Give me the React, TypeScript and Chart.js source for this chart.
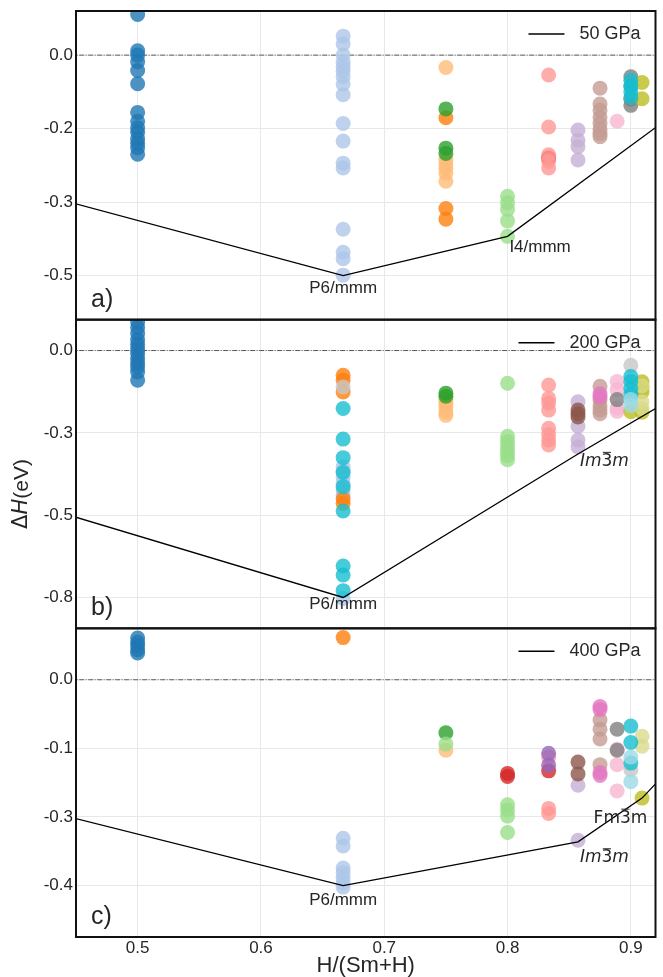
import React, { useEffect, useRef } from 'react';
import { Chart, registerables } from 'chart.js';

Chart.register(...registerables);

// ---------- palette (matplotlib tab20) ----------
const TAB20 = [
  '#1f77b4', '#aec7e8', '#ff7f0e', '#ffbb78', '#2ca02c', '#98df8a', '#d62728', '#ff9896',
  '#9467bd', '#c5b0d5', '#8c564b', '#c49c94', '#e377c2', '#f7b6d2', '#7f7f7f', '#c7c7c7',
  '#bcbd22', '#dbdb8d', '#17becf', '#9edae5',
];

// ---------- axes ----------
const X_RANGE = [0.45, 0.92];
const X_TICKS = [0.5, 0.6, 0.7, 0.8, 0.9];
const X_TITLE = 'H/(Sm+H)';

const PRESSURE_LABELS = ['50 GPa', '200 GPa', '400 GPa'];
const PANEL_LETTERS = ['a)', 'b)', 'c)'];

const Y_RANGE_A = [-0.6, 0.1];
const Y_RANGE_B = [-0.9, 0.1];
const Y_RANGE_C = [-0.5, 0.1];
const Y_TICKS_A = [0, -1 / 6, -1 / 3, -1 / 2];
const Y_TICKS_B = [0, -0.8 / 3, -1.6 / 3, -0.8];
const Y_TICKS_C = [0, -0.4 / 3, -0.8 / 3, -0.4];

// ---------- compositions H/(Sm+H) ----------
const SmH = 1 / 2;
const SmH2 = 2 / 3;
const SmH3 = 3 / 4;
const SmH4 = 4 / 5;
const SmH5 = 5 / 6;
const SmH6 = 6 / 7;
const SmH7 = 7 / 8;
const SmH8 = 8 / 9;
const SmH9 = 9 / 10;
const SmH10 = 10 / 11;

// [composition, tab20 colour index, ΔH values (eV)]
type Series = [number, number, number[]];

const POINTS_50: Series[] = [
  [SmH, 0, [0.092, 0.01, 0.0, -0.015, -0.035, -0.065, -0.13, -0.15, -0.165, -0.175, -0.19, -0.2, -0.21, -0.225]],
  [SmH2, 1, [0.043, 0.025, 0.0, -0.017, -0.027, -0.036, -0.049, -0.066, -0.09, -0.155, -0.195, -0.245, -0.256, -0.395, -0.447, -0.462, -0.499]],
  [SmH3, 2, [-0.142, -0.348, -0.372]],
  [SmH3, 3, [-0.028, -0.237, -0.247, -0.257, -0.268, -0.286]],
  [SmH3, 4, [-0.122, -0.211, -0.223]],
  [SmH4, 5, [-0.32, -0.335, -0.35, -0.376, -0.411]],
  [SmH5, 6, [-0.233]],
  [SmH5, 7, [-0.045, -0.163, -0.226, -0.241, -0.256]],
  [SmH6, 9, [-0.17, -0.193, -0.208, -0.238]],
  [SmH7, 11, [-0.075, -0.111, -0.125, -0.141, -0.155, -0.168, -0.178, -0.185]],
  [SmH8, 13, [-0.15]],
  [SmH9, 14, [-0.049, -0.07, -0.1, -0.114]],
  [SmH9, 18, [-0.057, -0.07, -0.083, -0.096]],
  [SmH10, 16, [-0.062, -0.099]],
];

const POINTS_200: Series[] = [
  [SmH, 0, [0.093, 0.075, 0.055, 0.035, 0.02, 0.006, -0.01, -0.025, -0.04, -0.053, -0.069, -0.096]],
  [SmH2, 1, [-0.377, -0.39, -0.41, -0.43, -0.452, -0.468, -0.803]],
  [SmH2, 2, [-0.08, -0.096, -0.134, -0.48, -0.495]],
  [SmH2, 15, [-0.118]],
  [SmH2, 18, [-0.188, -0.287, -0.347, -0.395, -0.441, -0.52, -0.698, -0.727, -0.778]],
  [SmH3, 3, [-0.16, -0.172, -0.185, -0.2, -0.21]],
  [SmH3, 4, [-0.138, -0.148]],
  [SmH4, 5, [-0.106, -0.278, -0.295, -0.31, -0.325, -0.34, -0.354]],
  [SmH5, 7, [-0.112, -0.155, -0.17, -0.193, -0.252, -0.272, -0.29, -0.306]],
  [SmH6, 9, [-0.166, -0.245, -0.29, -0.312]],
  [SmH6, 10, [-0.193, -0.205, -0.215]],
  [SmH7, 11, [-0.116, -0.16, -0.18, -0.193, -0.205]],
  [SmH7, 12, [-0.14, -0.15]],
  [SmH8, 13, [-0.1, -0.127, -0.186, -0.197]],
  [SmH8, 14, [-0.159]],
  [SmH9, 15, [-0.048]],
  [SmH9, 16, [-0.198]],
  [SmH9, 18, [-0.084, -0.1, -0.123, -0.143]],
  [SmH9, 19, [-0.159, -0.178]],
  [SmH10, 16, [-0.101, -0.12, -0.134, -0.2]],
  [SmH10, 17, [-0.115, -0.166, -0.188]],
];

const POINTS_400: Series[] = [
  [SmH, 0, [0.081, 0.073, 0.066, 0.058, 0.052]],
  [SmH2, 1, [-0.308, -0.323, -0.366, -0.375, -0.385, -0.395, -0.403]],
  [SmH2, 2, [0.082]],
  [SmH3, 3, [-0.137]],
  [SmH3, 4, [-0.103]],
  [SmH3, 5, [-0.125]],
  [SmH4, 5, [-0.243, -0.253, -0.265, -0.297]],
  [SmH4, 6, [-0.182, -0.188]],
  [SmH5, 6, [-0.177]],
  [SmH5, 7, [-0.15, -0.25, -0.26]],
  [SmH5, 8, [-0.143, -0.166]],
  [SmH6, 9, [-0.205, -0.312]],
  [SmH6, 10, [-0.16, -0.183]],
  [SmH7, 11, [-0.078, -0.096, -0.115, -0.165]],
  [SmH7, 12, [-0.052, -0.058, -0.18, -0.186]],
  [SmH8, 13, [-0.135, -0.165, -0.216]],
  [SmH8, 14, [-0.096, -0.137]],
  [SmH9, 15, [-0.175]],
  [SmH9, 18, [-0.09, -0.122, -0.162]],
  [SmH9, 19, [-0.15, -0.198]],
  [SmH10, 16, [-0.23]],
  [SmH10, 17, [-0.11, -0.129]],
];

// convex hulls [x, ΔH]
const HULL_50 = [[0, 0], [SmH2, -0.5], [SmH4, -0.411], [1, 0]];
const HULL_200 = [[0, 0], [SmH2, -0.8], [SmH6, -0.335], [1, 0]];
const HULL_400 = [[0, 0], [SmH2, -0.4], [SmH6, -0.315], [SmH10, -0.23], [1, 0]];
const ZERO_LINE = [[0, 0], [1, 0]];

// phase labels: [text, style, x, ΔH, align]
type PhaseLabel = [string, string, number, number, CanvasTextAlign];
const LABELS_50: PhaseLabel[] = [
  ['P6/mmm', 'plain', SmH2, -0.53, 'center'],
  ['I4/mmm', 'plain', 0.8015, -0.437, 'left'],
];
const LABELS_200: PhaseLabel[] = [
  ['P6/mmm', 'plain', SmH2, -0.822, 'center'],
  ['Im3\u0305m', 'mathit', 0.8587, -0.359, 'left'],
];
const LABELS_400: PhaseLabel[] = [
  ['P6/mmm', 'plain', SmH2, -0.428, 'center'],
  ['Fm3\u0305m', 'roman', 0.8698, -0.269, 'left'],
  ['Im3\u0305m', 'mathit', 0.8587, -0.346, 'left'],
];

// ---------- styling ----------
const SANS = '"Liberation Sans", Arial, sans-serif';
const DEJAVU = '"DejaVu Sans", sans-serif';
const TEXT_COLOR = '#262626';
const GRID_COLOR = '#e8e8e8';

const PANELS = [
  { id: 'y', range: Y_RANGE_A, ticks: Y_TICKS_A, points: POINTS_50, hull: HULL_50, labels: LABELS_50 },
  { id: 'y1', range: Y_RANGE_B, ticks: Y_TICKS_B, points: POINTS_200, hull: HULL_200, labels: LABELS_200 },
  { id: 'y2', range: Y_RANGE_C, ticks: Y_TICKS_C, points: POINTS_400, hull: HULL_400, labels: LABELS_400 },
];

function rgba(hex: string, a: number) {
  const n = parseInt(hex.slice(1), 16);
  return `rgba(${(n >> 16) & 255},${(n >> 8) & 255},${n & 255},${a})`;
}

function drawRich(ctx: CanvasRenderingContext2D, text: string, style: string, size: number, x: number, y: number, align: CanvasTextAlign) {
  const segs: { ch: string; bar: boolean }[] = [];
  for (const ch of text) {
    if (ch === '\u0305') {
      if (segs.length) segs[segs.length - 1].bar = true;
      continue;
    }
    segs.push({ ch, bar: false });
  }
  const fontFor = (ch: string) => {
    if (style === 'plain') return `${size}px ${SANS}`;
    if (style === 'mathit' && /[A-Za-z]/.test(ch)) return `italic ${size}px ${DEJAVU}`;
    return `${size}px ${DEJAVU}`;
  };
  let total = 0;
  const widths = segs.map((s) => {
    ctx.font = fontFor(s.ch);
    const w = ctx.measureText(s.ch).width;
    total += w;
    return w;
  });
  let cx = align === 'center' ? x - total / 2 : align === 'right' ? x - total : x;
  ctx.textAlign = 'left';
  ctx.textBaseline = 'middle';
  segs.forEach((s, i) => {
    ctx.font = fontFor(s.ch);
    ctx.fillText(s.ch, cx, y);
    if (s.bar) {
      ctx.beginPath();
      ctx.lineWidth = 1;
      ctx.strokeStyle = ctx.fillStyle as string;
      const by = y - size * 0.5 - 0.5;
      ctx.moveTo(cx + widths[i] * 0.12, by);
      ctx.lineTo(cx + widths[i] * 0.88, by);
      ctx.stroke();
    }
    cx += widths[i];
  });
}

const figurePlugin = {
  id: 'figureDecor',
  afterDatasetsDraw(chart: any) {
    const ctx: CanvasRenderingContext2D = chart.ctx;
    const ca = chart.chartArea;
    const xs = chart.scales.x;
    ctx.save();
    PANELS.forEach((p, i) => {
      const ys = chart.scales[p.id];
      // phase labels
      ctx.fillStyle = TEXT_COLOR;
      p.labels.forEach(([t, st, lx, ly, al]) => {
        drawRich(ctx, t, st, 17, xs.getPixelForValue(lx), ys.getPixelForValue(ly), al);
      });
      // legend
      ctx.font = `18px ${SANS}`;
      ctx.textAlign = 'right';
      ctx.textBaseline = 'middle';
      const ly = ys.top + 23;
      const tr = ca.right - 15;
      const tw = ctx.measureText(PRESSURE_LABELS[i]).width;
      ctx.fillStyle = TEXT_COLOR;
      ctx.fillText(PRESSURE_LABELS[i], tr, ly);
      ctx.beginPath();
      ctx.strokeStyle = '#000';
      ctx.lineWidth = 1.5;
      ctx.moveTo(tr - tw - 15 - 36, ly);
      ctx.lineTo(tr - tw - 15, ly);
      ctx.stroke();
      // panel letter
      ctx.font = `25px ${SANS}`;
      ctx.textAlign = 'left';
      ctx.fillStyle = TEXT_COLOR;
      ctx.fillText(PANEL_LETTERS[i], ca.left + 15, ys.bottom - 20);
      // frame
      ctx.strokeStyle = '#111';
      ctx.lineWidth = 2;
      ctx.strokeRect(ca.left, ys.top, ca.right - ca.left, ys.bottom - ys.top);
    });
    // x title
    ctx.fillStyle = TEXT_COLOR;
    ctx.font = `22px ${SANS}`;
    ctx.textAlign = 'center';
    ctx.textBaseline = 'middle';
    ctx.fillText(X_TITLE, (ca.left + ca.right) / 2, 966);
    // y title ΔH(eV)
    ctx.translate(22, 494);
    ctx.rotate(-Math.PI / 2);
    const parts: [string, string][] = [
      ['Δ', `21px ${DEJAVU}`],
      ['H', `italic 21px ${DEJAVU}`],
      ['(eV)', `21px ${SANS}`],
    ];
    let total = 0;
    const ws = parts.map(([t, f]) => {
      ctx.font = f;
      const w = ctx.measureText(t).width;
      total += w;
      return w;
    });
    let cx = -total / 2;
    ctx.textAlign = 'left';
    parts.forEach(([t, f], k) => {
      ctx.font = f;
      ctx.fillText(t, cx, 0);
      cx += ws[k];
    });
    ctx.restore();
  },
};

function buildDatasets() {
  const datasets: any[] = [];
  let order = 1000;
  PANELS.forEach((p, i) => {
    datasets.push({
      label: 'zero',
      data: ZERO_LINE.map(([x, y]) => ({ x, y })),
      yAxisID: p.id,
      xAxisID: 'x',
      showLine: true,
      borderColor: '#333',
      borderWidth: 0.8,
      borderDash: [5, 1.5, 1, 1.5],
      pointRadius: 0,
      order: 2000,
      clip: 0,
    });
    const sorted = p.points.slice().sort((a, b) => a[1] - b[1]);
    sorted.forEach(([x, ci, vals]) => {
      datasets.push({
        label: `s${i}-${ci}`,
        data: vals.map((y) => ({ x, y })),
        yAxisID: p.id,
        xAxisID: 'x',
        backgroundColor: rgba(TAB20[ci], 0.8),
        borderWidth: 0,
        pointRadius: 7.5,
        pointHoverRadius: 7.5,
        order: order--,
        clip: 0,
      });
    });
    datasets.push({
      label: PRESSURE_LABELS[i],
      data: p.hull.map(([x, y]) => ({ x, y })),
      yAxisID: p.id,
      xAxisID: 'x',
      showLine: true,
      borderColor: '#000',
      borderWidth: 1.3,
      pointRadius: 0,
      order: 0,
      clip: 0,
    });
  });
  return datasets;
}

function yScale(i: number) {
  const p = PANELS[i];
  return {
    type: 'linear',
    position: 'left',
    stack: 'panels',
    stackWeight: 1,
    weight: 3 - i,
    min: p.range[0],
    max: p.range[1],
    afterBuildTicks: (s: any) => {
      s.ticks = p.ticks.map((v) => ({ value: v }));
    },
    afterFit: (s: any) => {
      s.width = 76;
      s.paddingTop = 0;
      s.paddingBottom = 0;
    },
    ticks: {
      callback: (v: any) => Number(v).toFixed(1),
      font: { family: SANS, size: 17 },
      color: TEXT_COLOR,
      padding: 3,
      autoSkip: false,
    },
    grid: { color: GRID_COLOR, lineWidth: 1, drawTicks: false },
    border: { display: false },
  };
}

export default function App() {
  const ref = useRef<HTMLCanvasElement | null>(null);
  useEffect(() => {
    if (!ref.current) return;
    const chart = new Chart(ref.current, {
      type: 'scatter',
      data: { datasets: buildDatasets() },
      options: {
        responsive: false,
        animation: false,
        devicePixelRatio: 1,
        events: [],
        layout: { padding: { top: 11, right: 4, bottom: 0, left: 0 } },
        plugins: { legend: { display: false }, tooltip: { enabled: false } },
        scales: {
          x: {
            type: 'linear',
            position: 'bottom',
            min: X_RANGE[0],
            max: X_RANGE[1],
            afterBuildTicks: (s: any) => {
              s.ticks = X_TICKS.map((v) => ({ value: v }));
            },
            afterFit: (s: any) => {
              s.height = 40;
            },
            ticks: {
              callback: (v: any) => Number(v).toFixed(1),
              font: { family: SANS, size: 17 },
              color: TEXT_COLOR,
              padding: 1,
              autoSkip: false,
              maxRotation: 0,
            },
            grid: { color: GRID_COLOR, lineWidth: 1, drawTicks: false },
            border: { display: false },
          },
          y: yScale(0),
          y1: yScale(1),
          y2: yScale(2),
        } as any,
      },
      plugins: [figurePlugin],
    } as any);
    return () => chart.destroy();
  }, []);
  return (
    <div style={{ position: 'absolute', left: 0, top: 0, width: 663, height: 977, background: '#fff' }}>
      <canvas ref={ref} width={663} height={977} style={{ display: 'block' }} />
    </div>
  );
}
